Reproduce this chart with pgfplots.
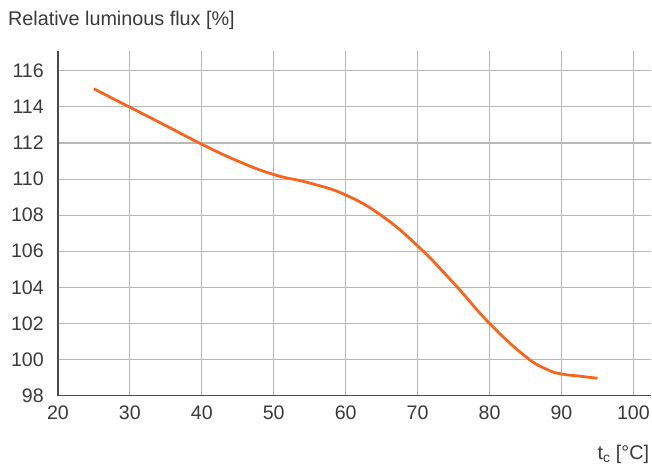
\documentclass[border=0pt]{standalone}
\usepackage{pgfplots}
\pgfplotsset{compat=1.18}
\usepackage{fontspec}
\setmainfont{Liberation Sans}
\definecolor{txt}{HTML}{3A3A3A}
\definecolor{axc}{HTML}{4A4A4A}
\definecolor{gridc}{HTML}{B8B8B8}
\definecolor{curve}{HTML}{F4661F}
\begin{document}
\begin{tikzpicture}
\begin{axis}[
  scale only axis,
  width=594pt, height=345pt,
  xmin=20, xmax=102.5, ymin=98, ymax=117.1,
  xtick={20,30,...,100}, ytick={98,100,...,116},
  axis lines=left,
  axis line style={-, draw=axc, line width=1.3pt},
  major tick length=0pt,
  grid=major,
  major grid style={draw=gridc, line width=1.1pt},
  font=\fontsize{19.6}{22}\selectfont\color{txt},
  /pgf/number format/assume math mode=true,
  yticklabel style={anchor=east, inner sep=0pt, xshift=-14pt},
  xticklabel style={anchor=north, inner sep=0pt, yshift=-10pt},
  clip=false,
]
\addplot[curve, line width=2.8pt, smooth, tension=0.75] coordinates {
  (25,115.0) (30,113.98) (35,112.96) (40,111.93) (45,111.0)
  (50,110.25) (55,109.78) (60,109.12) (65,107.97) (70,106.3)
  (75,104.24) (80,102.0) (85,100.17) (88,99.45) (90,99.2)
  (92.5,99.08) (95,98.96)
};
\coordinate (o) at (rel axis cs:0,0);
\coordinate (tl) at (rel axis cs:0,1);
\coordinate (br) at (rel axis cs:1,0);
\end{axis}
\node[anchor=base west, inner sep=0pt, font=\fontsize{19.8}{22}\selectfont, text=txt] at ([xshift=-50pt,yshift=25pt]tl) {Relative luminous flux [\%]};
\node[anchor=base east, inner sep=0pt, font=\fontsize{19.8}{22}\selectfont, text=txt] at ([xshift=-2pt,yshift=-64pt]br) {t\textsubscript{c} [°C]};
\path ([xshift=-58pt,yshift=-69pt]o) rectangle ++(652pt,465pt);
\end{tikzpicture}
\end{document}
